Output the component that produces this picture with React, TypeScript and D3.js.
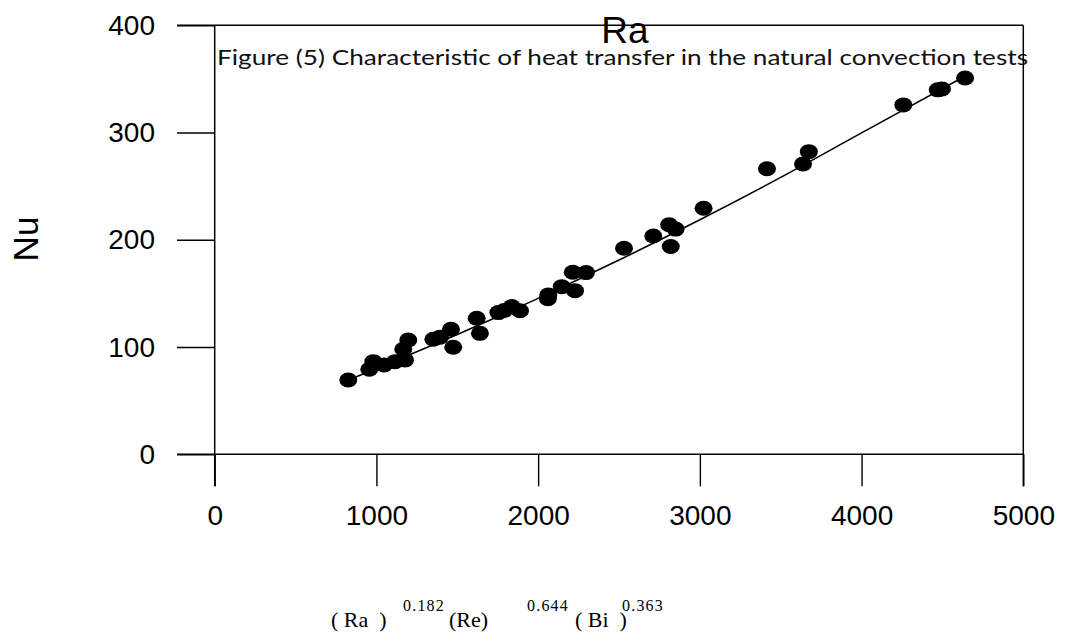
import React, { useEffect, useRef } from 'react';
import * as d3 from 'd3';

// Data
const raValues = [826, 956, 981, 1047, 1115, 1177, 1166, 1197, 1352, 1393, 1461, 1475, 1620, 1640, 1754, 1790, 1837, 1888, 2063, 2060, 2146, 2228, 2214, 2296, 2531, 2712, 2810, 2850, 2820, 3023, 3415, 3638, 3674, 4258, 4471, 4497, 4640];
const nuValues = [69.3, 79.3, 86.4, 83.3, 86.4, 87.9, 97.9, 106.6, 107.3, 109.1, 116.6, 99.8, 126.8, 112.8, 132.1, 134, 137.7, 133.9, 148.6, 145, 156.3, 152.6, 169.7, 169.4, 192.1, 203.6, 214, 210, 193.8, 229.4, 266.2, 270.7, 282.2, 325.8, 339.8, 340.7, 350.9];

// fitted curve
const fitRa = [850, 1500, 2000, 2500, 3000, 3500, 4000, 4670];
const fitNu = [70.7, 111.7, 145.4, 181.1, 218.7, 258.2, 299.7, 355];

const xTicks = [0, 1000, 2000, 3000, 4000, 5000];
const yTicks = [0, 100, 200, 300, 400];

const caption = 'Figure (5) Characteristic of heat transfer in the natural convection tests';

const W = 1067;
const H = 637;

const App = () => {
    const ref = useRef<SVGSVGElement>(null);

    useEffect(() => {
        const svg = d3.select(ref.current);
        svg.selectAll('*').remove();

        const left = 214.7, right = 1023.3, top = 25.3, bottom = 454.3;
        const x = d3.scaleLinear().domain([0, 5000]).range([left, right]);
        const y = d3.scaleLinear().domain([0, 400]).range([bottom, top]);

        // caption (behind the frame)
        svg.append('text')
            .attr('x', 217)
            .attr('y', 65)
            .attr('font-family', 'Lato, "Open Sans", sans-serif')
            .attr('font-size', 22)
            .attr('fill', '#111')
            .attr('textLength', 811)
            .attr('lengthAdjust', 'spacingAndGlyphs')
            .text(caption);

        // y axis
        const yAxis = svg.append('g')
            .attr('transform', `translate(${left},0)`)
            .call(d3.axisLeft(y).tickValues(yTicks).tickSize(left - 177).tickPadding(22).tickFormat(d3.format('d')));
        yAxis.select('.domain').remove();
        yAxis.selectAll('line').attr('stroke', '#000').attr('stroke-width', 1.4);
        yAxis.selectAll('text').attr('font-family', 'Liberation Sans, Arial, sans-serif').attr('font-size', 28).attr('fill', '#000');

        // x axis
        const xAxis = svg.append('g')
            .attr('transform', `translate(0,${bottom})`)
            .call(d3.axisBottom(x).tickValues(xTicks).tickSize(32).tickPadding(19).tickFormat(d3.format('d')));
        xAxis.select('.domain').remove();
        xAxis.selectAll('line').attr('stroke', '#000').attr('stroke-width', 1.4);
        xAxis.selectAll('text').attr('font-family', 'Liberation Sans, Arial, sans-serif').attr('font-size', 28).attr('fill', '#000');

        // frame lines
        const frame = svg.append('g').attr('stroke', '#000').attr('stroke-width', 1.5);
        frame.append('line').attr('x1', 177).attr('x2', right).attr('y1', top).attr('y2', top);
        frame.append('line').attr('x1', 177).attr('x2', right).attr('y1', bottom).attr('y2', bottom);
        frame.append('line').attr('x1', left).attr('x2', left).attr('y1', top).attr('y2', bottom + 32);
        frame.append('line').attr('x1', right).attr('x2', right).attr('y1', top).attr('y2', bottom + 32);

        // fitted curve
        const line = d3.line<number>()
            .x((d, i) => x(fitRa[i]))
            .y(d => y(d))
            .curve(d3.curveMonotoneX);
        svg.append('path')
            .datum(fitNu)
            .attr('d', line)
            .attr('fill', 'none')
            .attr('stroke', '#000')
            .attr('stroke-width', 1.6);

        // points
        svg.append('g')
            .selectAll('ellipse')
            .data(raValues)
            .join('ellipse')
            .attr('cx', d => x(d))
            .attr('cy', (d, i) => y(nuValues[i]))
            .attr('rx', 9)
            .attr('ry', 7.5)
            .attr('fill', '#000');

        // labels
        svg.append('text')
            .attr('x', 625)
            .attr('y', 43)
            .attr('text-anchor', 'middle')
            .attr('font-family', 'Liberation Sans, Arial, sans-serif')
            .attr('font-size', 37)
            .attr('fill', '#000')
            .text('Ra');

        svg.append('text')
            .attr('transform', 'translate(38,239) rotate(-90)')
            .attr('text-anchor', 'middle')
            .attr('font-family', 'Liberation Sans, Arial, sans-serif')
            .attr('font-size', 35)
            .attr('fill', '#000')
            .text('Nu');

        // formula at bottom
        const f = svg.append('g')
            .attr('font-family', '"Liberation Serif", "Times New Roman", serif')
            .attr('fill', '#000');
        const parts = [
            { t: '( Ra  )', x: 331, sup: false },
            { t: '0.182', x: 403, sup: true },
            { t: '(Re)', x: 449, sup: false },
            { t: '0.644', x: 527, sup: true },
            { t: '( Bi  )', x: 575, sup: false },
            { t: '0.363', x: 622, sup: true },
        ];
        f.selectAll('text')
            .data(parts)
            .join('text')
            .attr('x', d => d.x)
            .attr('y', d => (d.sup ? 611 : 627))
            .attr('font-size', d => (d.sup ? 16 : 22))
            .attr('letter-spacing', d => (d.sup ? 1.2 : 0))
            .attr('xml:space', 'preserve')
            .style('white-space', 'pre')
            .text(d => d.t);
    }, []);

    return (
        <svg ref={ref} width={W} height={H} viewBox={`0 0 ${W} ${H}`}
            style={{ position: 'absolute', left: 0, top: 0, background: '#fff', display: 'block' }} />
    );
};

export default App;
